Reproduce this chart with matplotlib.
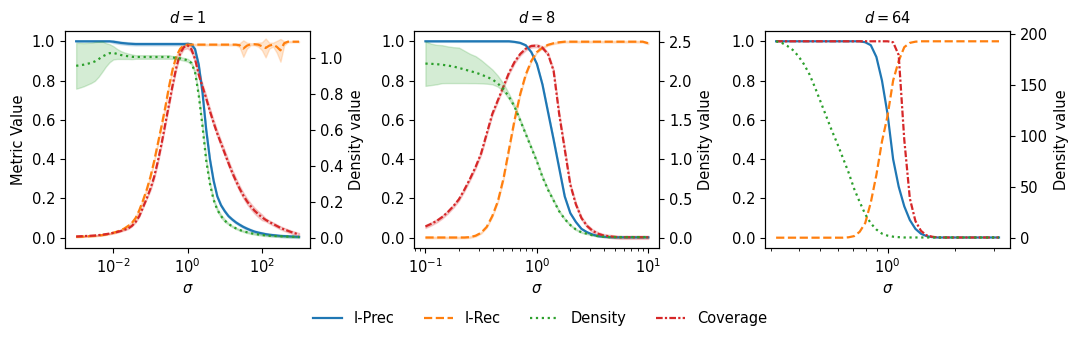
import numpy as np
import matplotlib
matplotlib.use("Agg")
import matplotlib.pyplot as plt

# ---------------- data ----------------
# d = 1 : log10(sigma) from -3 to 3, step 0.1
sigma1 = np.logspace(-3, 3, 61)
prec1 = [1.0, 1.0, 1.0, 1.0, 1.0, 1.0, 1.0, 1.0, 1.0, 1.0,
         0.998, 0.995, 0.992, 0.99, 0.988, 0.987,
         0.986, 0.986, 0.986, 0.986, 0.986, 0.986, 0.986, 0.986, 0.986, 0.986, 0.986, 0.986, 0.986, 0.986,
         0.987, 0.985, 0.96, 0.88, 0.74, 0.55, 0.40, 0.29, 0.21, 0.165, 0.135, 0.11, 0.093, 0.078, 0.066,
         0.055, 0.046, 0.038, 0.031, 0.026, 0.022, 0.018, 0.015, 0.013, 0.011, 0.009, 0.008, 0.007, 0.006,
         0.005, 0.004]
prec1_std = [0.003] * 10 + [0.007] * 20 + [0.006] * 31
rec1 = [0.005, 0.005, 0.006, 0.007, 0.008, 0.009, 0.011, 0.013, 0.016, 0.02,
        0.025, 0.031, 0.038, 0.047, 0.06, 0.075, 0.10, 0.14, 0.19, 0.245,
        0.31, 0.39, 0.48, 0.57, 0.665, 0.77, 0.86, 0.925, 0.962, 0.98, 0.983,
        0.983, 0.983, 0.983, 0.983, 0.983, 0.983, 0.983, 0.983, 0.983, 0.983, 0.983, 0.983, 0.983,
        0.98, 0.963, 0.978, 0.985, 0.985, 0.983, 0.975, 0.966, 0.978, 0.983, 0.972, 0.954, 0.99,
        0.998, 0.998, 0.998, 0.998]
rec1_std = ([0.002] * 10 + [0.004] * 5 + [0.008] * 10 + [0.006] * 6 + [0.004] * 13 +
            [0.01, 0.042, 0.015, 0.005, 0.005, 0.01, 0.02, 0.048, 0.015, 0.01, 0.03, 0.058, 0.01,
             0.003, 0.003, 0.003, 0.003])
dens1 = [0.954, 0.957, 0.96, 0.965, 0.97, 0.978, 0.99, 1.005, 1.015, 1.024, 1.026, 1.02, 1.014, 1.01,
         1.007, 1.004,
         1.003, 1.003, 1.003, 1.003, 1.003, 1.003, 1.003, 1.003, 1.003, 1.003,
         1.0, 0.998, 0.995, 0.99, 0.985, 0.97, 0.92, 0.79, 0.62, 0.43, 0.30, 0.21, 0.155, 0.12, 0.095,
         0.077, 0.063, 0.052, 0.043, 0.036, 0.03, 0.025, 0.021, 0.018, 0.015, 0.013, 0.011, 0.01, 0.009,
         0.008, 0.007, 0.006, 0.005, 0.005, 0.004]
dens1_std = ([0.127, 0.124, 0.12, 0.116, 0.112, 0.108, 0.098, 0.085, 0.065, 0.05, 0.037, 0.028,
              0.022, 0.018, 0.015, 0.013] + [0.01] * 10 + [0.008] * 15 + [0.004] * 20)
cov1 = [0.006, 0.007, 0.008, 0.009, 0.01, 0.011, 0.013, 0.015, 0.018, 0.021,
        0.025, 0.029, 0.034, 0.04, 0.047, 0.06, 0.08, 0.11, 0.155, 0.2,
        0.25, 0.31, 0.39, 0.48, 0.58, 0.68, 0.78, 0.87, 0.94, 0.97,
        0.979, 0.96, 0.91, 0.83, 0.77, 0.71, 0.645, 0.585, 0.53, 0.48,
        0.43, 0.38, 0.332, 0.29, 0.25, 0.215, 0.185, 0.16, 0.138, 0.12,
        0.104, 0.091, 0.08, 0.07, 0.06, 0.05, 0.042, 0.035, 0.028, 0.022, 0.016]
cov1_std = [0.003] * 20 + [0.01] * 10 + [0.015] * 21 + [0.008] * 10

# d = 8 : log10(sigma) from -1 to 1, step 0.05
sigma8 = np.logspace(-1, 1, 41)
prec8 = [1.0] * 16 + [0.997, 0.992, 0.98, 0.945, 0.885, 0.78, 0.64, 0.50, 0.355, 0.21, 0.125, 0.08,
                      0.045, 0.028, 0.016, 0.008, 0.005, 0.003] + [0.002] * 7
prec8_std = [0.003] * 41
rec8 = [0.001] * 8 + [0.003, 0.01, 0.025, 0.055, 0.11, 0.185, 0.30, 0.45, 0.60, 0.73, 0.83, 0.9,
                      0.945, 0.968, 0.982, 0.99, 0.995] + [0.998] * 15 + [0.99]
rec8_std = [0.004] * 41
dens8 = [2.225, 2.222, 2.218, 2.21, 2.2, 2.188, 2.17, 2.15, 2.13, 2.11, 2.085, 2.055, 2.025, 1.97,
         1.9, 1.8, 1.675, 1.5, 1.325, 1.15, 0.975, 0.775, 0.612, 0.475, 0.338, 0.238, 0.162, 0.105,
         0.068, 0.05, 0.03, 0.02, 0.012] + [0.008] * 8
dens8_lo = [1.94, 1.95, 1.96, 1.975, 1.976, 1.976, 1.976, 1.976, 1.975, 1.975, 1.972, 1.968, 1.96,
            1.93, 1.87, 1.77, 1.655, 1.48, 1.31, 1.135, 0.96, 0.76, 0.6, 0.462, 0.326, 0.228, 0.154,
            0.098, 0.062, 0.045, 0.026, 0.017, 0.009] + [0.006] * 8
dens8_hi = [2.51, 2.48, 2.465, 2.46, 2.445, 2.435, 2.43, 2.39, 2.35, 2.32, 2.27, 2.21, 2.15, 2.07,
            1.97, 1.84, 1.695, 1.52, 1.34, 1.165, 0.99, 0.79, 0.625, 0.488, 0.35, 0.248, 0.17,
            0.112, 0.074, 0.055, 0.034, 0.023, 0.015] + [0.01] * 8
cov8 = [0.057, 0.07, 0.085, 0.105, 0.13, 0.16, 0.195, 0.245, 0.30, 0.36, 0.43, 0.53, 0.63, 0.70,
        0.77, 0.84, 0.895, 0.935, 0.962, 0.976, 0.978, 0.967, 0.935, 0.85, 0.63, 0.45, 0.27, 0.17,
        0.10, 0.06, 0.035, 0.02, 0.011, 0.007, 0.004] + [0.002] * 6
cov8_std = [0.008] * 41

# d = 64 : log10(sigma) from -0.5 to 0.5, step 0.025
sigma64 = np.logspace(-0.5, 0.5, 41)
prec64 = [1.0] * 16 + [0.995, 0.98, 0.92, 0.80, 0.63, 0.40, 0.26, 0.16, 0.09, 0.045, 0.02, 0.008,
                       0.003] + [0.001] * 12
rec64 = [0.0] * 13 + [0.002, 0.008, 0.03, 0.075, 0.18, 0.32, 0.49, 0.62, 0.80, 0.9, 0.97, 0.992,
                      0.998] + [1.0] * 15
dens64 = [192.5, 191, 188, 184, 178, 170, 160, 147, 133, 119, 105, 92, 78, 64, 48, 35, 23, 14, 8, 4,
          2, 1, 0.5] + [0.2] * 18
cov64 = [1.0] * 21 + [0.995, 0.93, 0.50, 0.20, 0.085, 0.035, 0.012, 0.005] + [0.001] * 12

panels = [
    dict(d=1, sigma=sigma1, prec=prec1, prec_std=prec1_std, rec=rec1, rec_std=rec1_std,
         dens=dens1, dens_lo=np.array(dens1) - np.array(dens1_std),
         dens_hi=np.array(dens1) + np.array(dens1_std), cov=cov1, cov_std=cov1_std),
    dict(d=8, sigma=sigma8, prec=prec8, prec_std=prec8_std, rec=rec8, rec_std=rec8_std,
         dens=dens8, dens_lo=dens8_lo, dens_hi=dens8_hi, cov=cov8, cov_std=cov8_std),
    dict(d=64, sigma=sigma64, prec=prec64, prec_std=None, rec=rec64, rec_std=None,
         dens=dens64, dens_lo=None, dens_hi=None, cov=cov64, cov_std=None),
]

# ---------------- plot ----------------
FS = 10.5
plt.rcParams['font.size'] = FS
plt.rcParams['axes.titlesize'] = FS
plt.rcParams['axes.labelsize'] = FS
plt.rcParams['xtick.labelsize'] = FS
plt.rcParams['ytick.labelsize'] = FS
plt.rcParams['legend.fontsize'] = FS
LW = 1.6
fig = plt.figure(figsize=(10.8, 3.44), dpi=100)
lefts = [0.0602, 0.3836, 0.7083]
bottom, width, height = 0.2805, 0.227, 0.628

cov_ls = (0, (3, 1, 1, 1))
handles = None
for i, p in enumerate(panels):
    ax = fig.add_axes([lefts[i], bottom, width, height])
    ax.set_xscale('log')
    s = p['sigma']

    def band(axx, y, sd, color):
        if sd is None:
            return
        y = np.array(y)
        sd = np.array(sd)
        axx.fill_between(s, y - sd, y + sd, color=color, alpha=0.2)

    h1, = ax.plot(s, p['prec'], color='C0', lw=LW, ls='-', label='I-Prec')
    band(ax, p['prec'], p['prec_std'], 'C0')
    h2, = ax.plot(s, p['rec'], color='C1', lw=LW, ls='--', label='I-Rec')
    band(ax, p['rec'], p['rec_std'], 'C1')
    h4, = ax.plot(s, p['cov'], color='C3', lw=LW, ls=cov_ls, label='Coverage')
    band(ax, p['cov'], p['cov_std'], 'C3')
    ax.set_ylim(-0.05, 1.05)

    ax2 = ax.twinx()
    h3, = ax2.plot(s, p['dens'], color='C2', lw=LW, ls=':', label='Density')
    top = max(p['dens'])
    if p['dens_lo'] is not None:
        ax2.fill_between(s, p['dens_lo'], p['dens_hi'], color='C2', alpha=0.2)
        top = max(top, max(p['dens_hi']))
    ax2.set_ylim(-0.05 * top, 1.05 * top)
    ax2.set_ylabel('Density value')

    ax.set_title(f"$d={p['d']}$")
    ax.set_xlabel(r'$\sigma$')
    if i == 0:
        ax.set_ylabel('Metric Value')
        handles = [h1, h2, h3, h4]

fig.legend(handles, [h.get_label() for h in handles], loc='center', ncol=4,
           frameon=False, bbox_to_anchor=(0.5, 0.075))
fig.savefig('out.png', dpi=100)
